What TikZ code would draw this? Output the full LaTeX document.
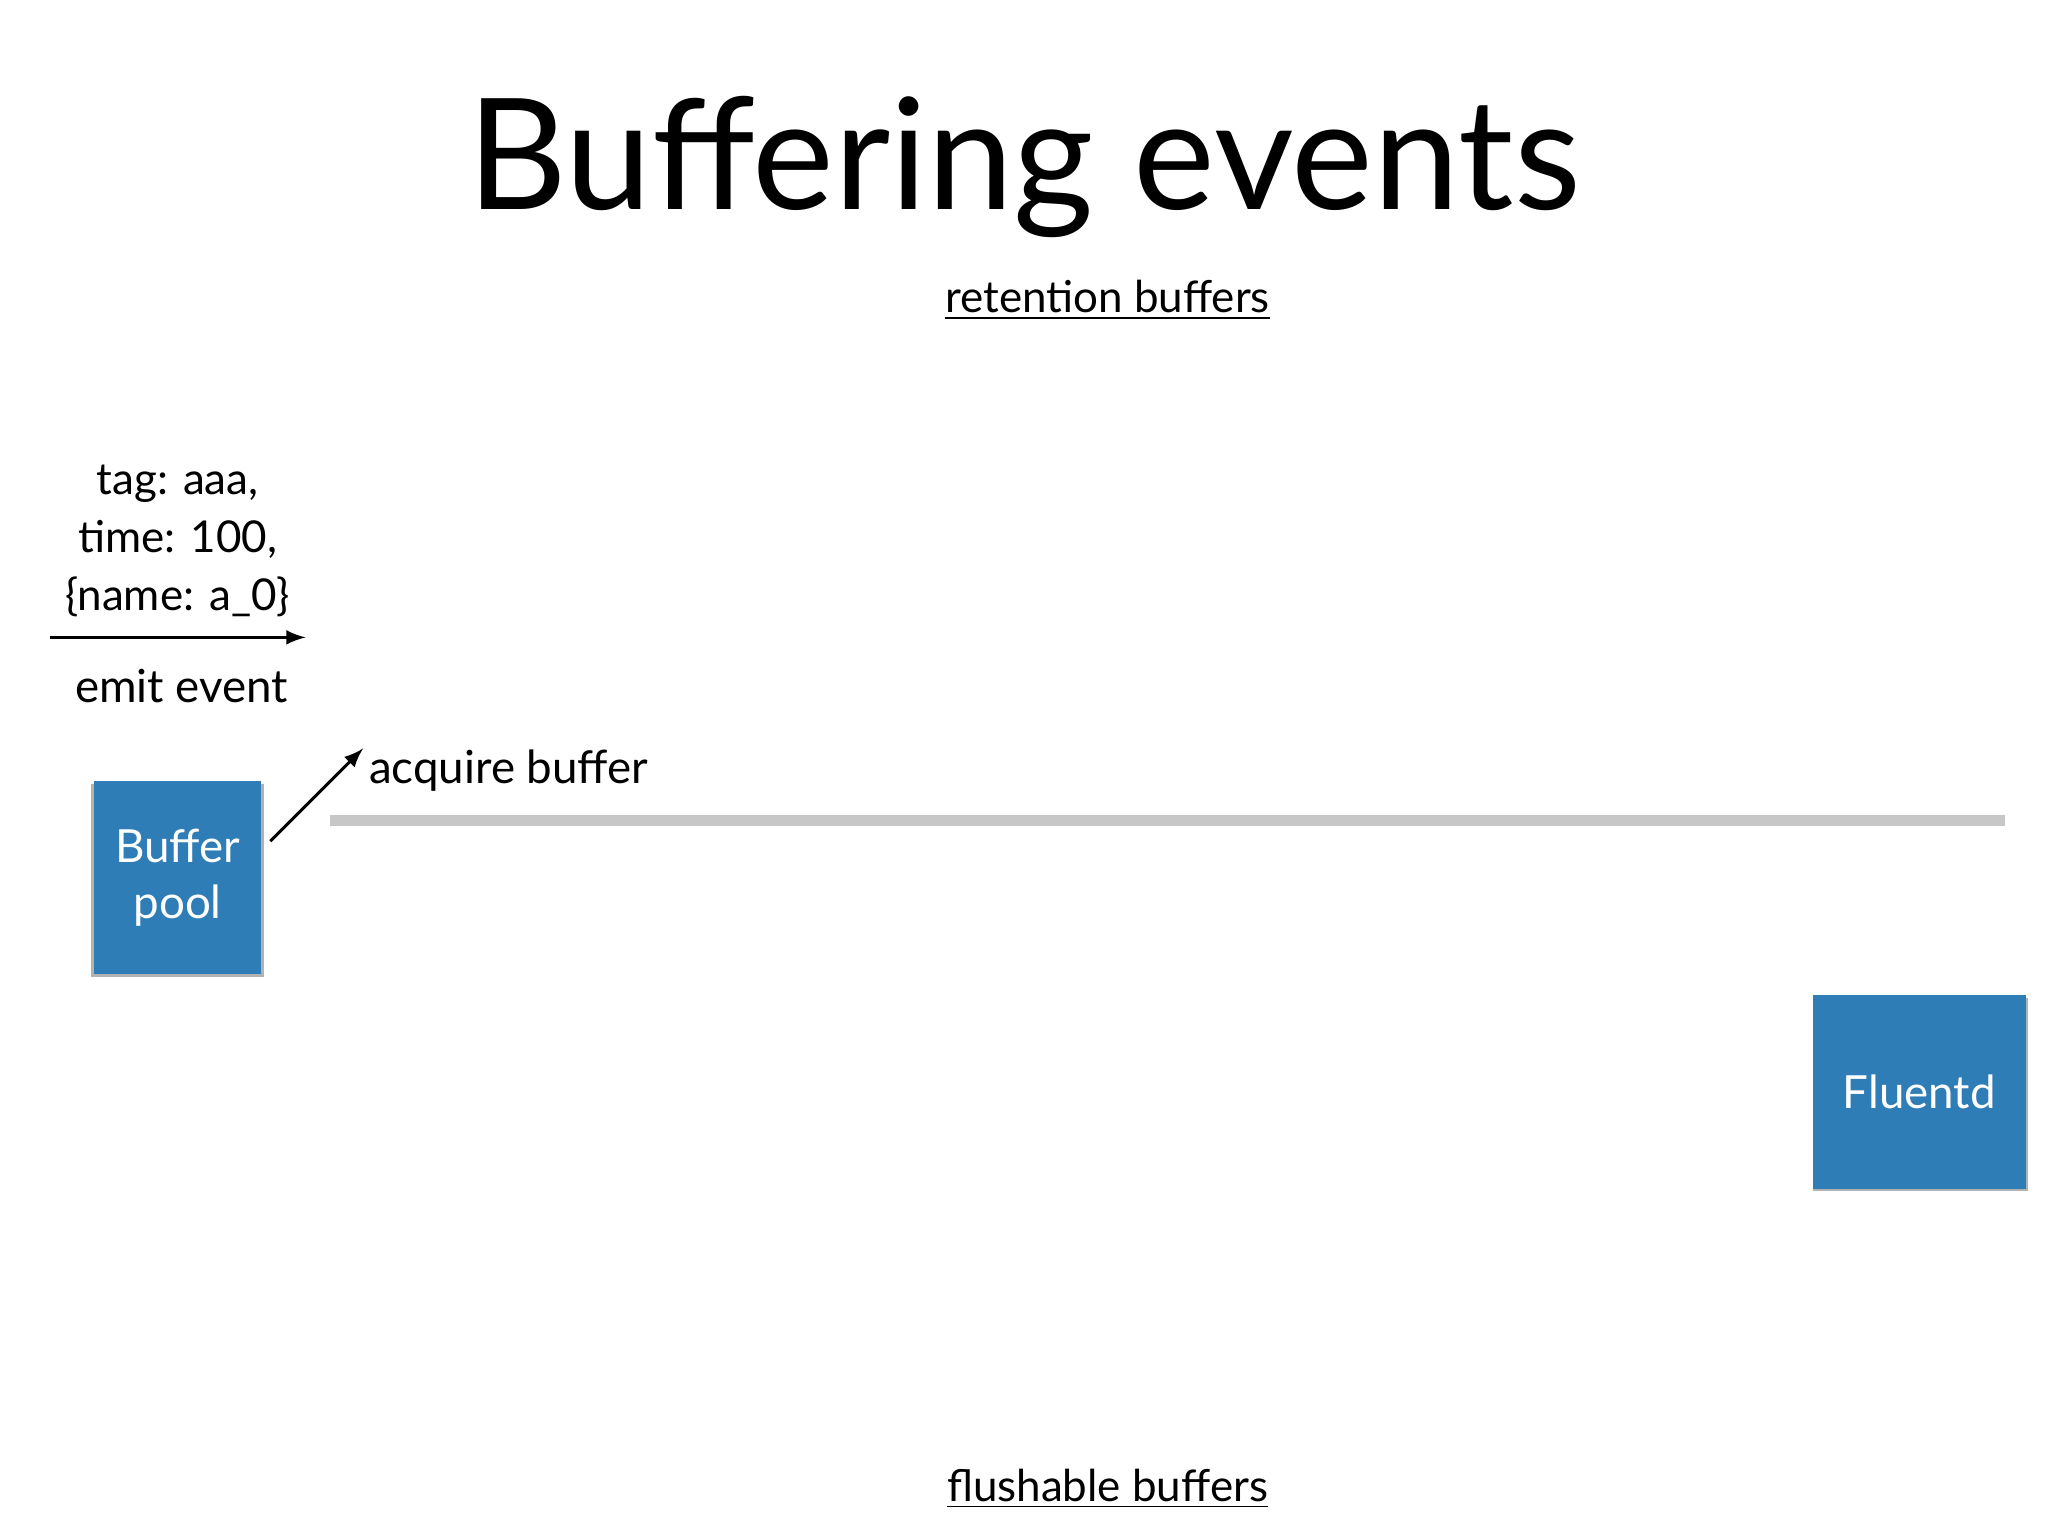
\documentclass[tikz,border=0pt]{standalone}
\usepackage{fontspec}
\setmainfont{Lato}
\begin{document}
\begin{tikzpicture}[x=0.01306cm,y=-0.01306cm,
  box/.style={fill=blue!45!cyan!60!black!90, fill={rgb,255:red,47;green,125;blue,182}, text=white, font=\fontsize{13}{16}\selectfont, align=center, inner sep=0pt, drop shadow/.style={}},
  lbl/.style={font=\fontsize{13}{16}\selectfont, inner sep=0pt},
  arr/.style={-latex, line width=0.9pt}]
\useasboundingbox (0,0) rectangle (1568,1176);
\node[font=\fontsize{44}{50}\selectfont] (title) at (784,128) {Buffering events};
\node[lbl,font=\fontsize{12.5}{15}\selectfont] (ret) at (848,230) {\underline{retention buffers}};
\node[lbl,font=\fontsize{12.5}{15}\selectfont] (flu) at (848,1140) {\underline{flushable buffers}};
\node[lbl,align=center,font=\fontsize{12.5}{16.5}\selectfont] (ev) at (136,414) {tag: aaa,\\time: 100,\\\{name: a\_0\}};
\coordinate (e1) at (38,488); \coordinate (e2) at (234,488);
\draw[arr] (e1) -- (e2);
\node[lbl] (emit) at (139,525) {emit event};
\fill[black!30] (70,600) rectangle (202,748);
\node[box, minimum width=128*0.01306cm, minimum height=148*0.01306cm] (pool) at (136,672) {Buffer\\pool};
\fill[black!30] (1388,764) rectangle (1553,912);
\node[box, minimum width=163*0.01306cm, minimum height=148*0.01306cm] (fluentd) at (1469.5,836) {Fluentd};
\coordinate (a1) at (207,644); \coordinate (a2) at (278,573);
\draw[arr] (a1) -- (a2);
\node[lbl,anchor=west] (acq) at (282,590) {acquire buffer};
\coordinate (g1) at (253,628); \coordinate (g2) at (1535,628);
\draw[line width=3pt, black!22] (g1) -- (g2);
\end{tikzpicture}
\end{document}
